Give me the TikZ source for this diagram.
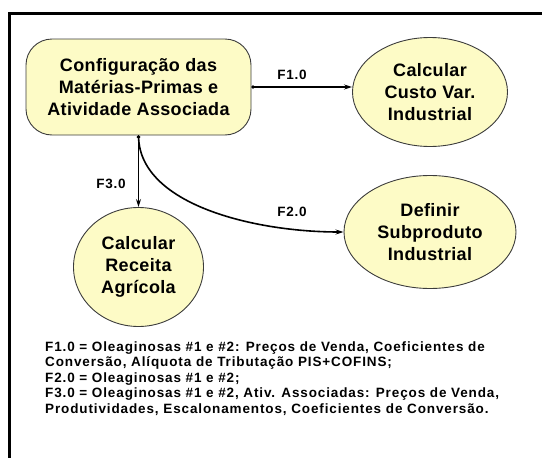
\documentclass[tikz,border=0pt]{standalone}
\usepackage{fontspec}
\setmainfont{Liberation Sans}
\usetikzlibrary{shapes.geometric,arrows.meta}
\definecolor{nodefill}{RGB}{253,251,198}
\definecolor{nodeline}{RGB}{60,60,60}
\begin{document}
\begin{tikzpicture}[x=1pt,y=-1pt,
  proc/.style={draw=nodeline,line width=0.9pt,fill=nodefill,align=center,inner sep=0pt,
    font=\bfseries\fontsize{18}{22}\selectfont\addfontfeature{LetterSpace=2}},
  boxnode/.style={proc,rectangle,rounded corners=26pt,minimum width=225pt,minimum height=96pt},
  ellnode/.style={proc,ellipse},
  flow/.style={line width=1.6pt,{Circle[length=3pt]}-{Stealth[length=8pt,width=5pt]}},
  lbl/.style={font=\bfseries\fontsize{13.5}{15.5}\selectfont\addfontfeature{LetterSpace=5},inner sep=0pt},
  legendtext/.style={lbl,font=\bfseries\fontsize{13.5}{15.5}\selectfont\addfontfeature{LetterSpace=6.5}}]
\useasboundingbox (0,0) rectangle (542,458);
\draw[line width=3pt] (9,458) -- (9,13) -- (542,13);

\node[boxnode] (cfg) at (138.5,87) {Configuração das\\Matérias-Primas e\\Atividade Associada};
\node[ellnode,minimum width=155pt,minimum height=109pt] (cv) at (430,92) {Calcular\\Custo Var.\\Industrial};
\node[ellnode,minimum width=172pt,minimum height=113pt] (sp) at (430,232) {Definir\\Subproduto\\Industrial};
\node[ellnode,minimum width=130pt,minimum height=119pt] (ra) at (138.5,267) {Calcular\\Receita\\Agrícola};

\draw[flow] (cfg.east) -- (cv.west |- cfg.east);
\draw[flow] (cfg.south) -- (ra.north);
\draw[flow] (cfg.south) .. controls (141,205) and (255,232) .. (sp.west);

\node[lbl] (l1) at (292,75) {F1.0};
\node[lbl] (l3) at (111,184) {F3.0};
\node[lbl] (l2) at (292,212) {F2.0};

\node[legendtext,anchor=north west,align=left] (legend) at (45,341.5)
{F1.0 = Oleaginosas \#1 e \#2: Preços de Venda, Coeficientes de\\
Conversão, Alíquota de Tributação PIS+COFINS;\\
F2.0 = Oleaginosas \#1 e \#2;\\
F3.0 = Oleaginosas \#1 e \#2, Ativ. Associadas: Preços de Venda,\\
Produtividades, Escalonamentos, Coeficientes de Conversão.};
\end{tikzpicture}
\end{document}
